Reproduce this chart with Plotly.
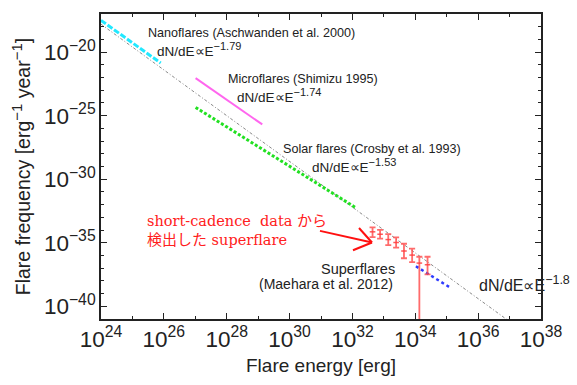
import plotly.graph_objects as go

# ---- data (log10 values) ----
trend_logE = [24.0, 37.2]
trend_logF = [-17.8, -41.56]

nano_logE = [24.0, 25.9]
nano_logF = [-17.5, -20.86]

micro_logE = [27.01, 29.13]
micro_logF = [-22.05, -25.69]

solar_logE = [27.01, 32.11]
solar_logF = [-24.35, -32.25]

maehara_logE = [34.02, 35.13]
maehara_logF = [-36.85, -38.56]

sc_logE = [32.64, 32.88, 33.14, 33.39, 33.64, 33.90, 34.13, 34.39]
sc_logF = [-34.14, -34.33, -34.75, -34.98, -35.65, -35.97, -36.60, -36.73]
sc_logUp = [-33.79, -33.99, -34.32, -34.58, -35.08, -35.46, -36.10, -36.10]
sc_logLo = [-34.55, -34.68, -35.19, -35.38, -36.22, -36.52, -42.0, -37.49]

x_range_log = [24, 38]
y_range_log = [-41, -17]

p10 = lambda arr: [10 ** v for v in arr]

fig = go.Figure()

fig.add_trace(go.Scatter(x=p10(trend_logE), y=p10(trend_logF), mode="lines",
                         line=dict(color="#8a8a8a", width=1, dash="3px,2px,1px,2px")))
fig.add_trace(go.Scatter(x=p10(nano_logE), y=p10(nano_logF), mode="lines",
                         line=dict(color="#22e8ff", width=3, dash="6px,2px")))
fig.add_trace(go.Scatter(x=p10(micro_logE), y=p10(micro_logF), mode="lines",
                         line=dict(color="#ff66ee", width=2)))
fig.add_trace(go.Scatter(x=p10(solar_logE), y=p10(solar_logF), mode="lines",
                         line=dict(color="#22e022", width=3, dash="3px,2px")))
fig.add_trace(go.Scatter(x=p10(maehara_logE), y=p10(maehara_logF), mode="lines",
                         line=dict(color="#2f3cff", width=2.5, dash="dot")))

sc_F = p10(sc_logF)
sc_up = [u - f for u, f in zip(p10(sc_logUp), sc_F)]
sc_lo = [f - l for l, f in zip(p10(sc_logLo), sc_F)]
fig.add_trace(go.Scatter(
    x=p10(sc_logE), y=sc_F, mode="markers",
    marker=dict(color="rgba(255,60,60,0.85)", size=4, symbol="line-ew",
                line=dict(color="rgba(255,60,60,0.85)", width=1.5)),
    error_y=dict(type="data", symmetric=False, array=sc_up, arrayminus=sc_lo,
                 color="rgba(255,70,70,0.8)", thickness=1.8, width=3),
))

fig.update_layout(
    width=577, height=385,
    margin=dict(l=101, r=36, t=12, b=58),
    paper_bgcolor="white", plot_bgcolor="white",
    showlegend=False,
    font=dict(family="Liberation Sans, Arial, sans-serif", color="#222"),
)

axis_common = dict(type="log", showline=True, linecolor="#222", linewidth=1.5,
                   mirror="ticks", ticks="inside", ticklen=6, tickcolor="#222",
                   tickwidth=1.2, showgrid=False, zeroline=False,
                   exponentformat="power", tickfont=dict(size=18, color="#222"))

sup = lambda s, size: f"<sup><span style='font-size:{size}px'>{s}</span></sup>"

fig.update_xaxes(**axis_common, range=x_range_log, dtick=2,
                 minor=dict(dtick=1, ticklen=3, ticks="inside", tickcolor="#222", showgrid=False),
                 title=dict(text="Flare energy [erg]", font=dict(size=19), standoff=8))
fig.update_yaxes(**axis_common, range=y_range_log, dtick=5,
                 minor=dict(dtick=1, ticklen=3, ticks="inside", tickcolor="#222", showgrid=False),
                 title=dict(text="Flare frequency [erg" + sup("−1", 15) + " year" + sup("−1", 15) + "]",
                            font=dict(size=19.5), standoff=8))

def px(xp, yp):
    return (xp - 101) / 440.0, (327 - yp) / 315.0

def label(text, xp, yp, size=12, color="#222", family=None, anchor="left"):
    x, y = px(xp, yp)
    f = dict(size=size, color=color)
    if family:
        f["family"] = family
    fig.add_annotation(x=x, y=y, xref="paper", yref="paper", text=text, showarrow=False,
                       xanchor=anchor, yanchor="middle", font=f)

label("Nanoflares (Aschwanden et al. 2000)", 146, 32, 12.6)
label("dN/dE∝E" + sup("−1.79", 11), 155, 49, 13.5)
label("Microflares (Shimizu 1995)", 226, 79, 12.6)
label("dN/dE∝E" + sup("−1.74", 11), 235, 96, 13.5)
label("Solar flares (Crosby et al. 1993)", 281, 151, 12.6)
label("dN/dE∝E" + sup("−1.53", 11), 310, 168, 13.5)
label("Superflares", 358, 275, 14.5, anchor="center")
label("(Maehara et al. 2012)", 326, 291, 14, anchor="center")
label("dN/dE∝E" + sup("−1.8", 12.5), 477, 290, 16)
serif = "DejaVu Serif, Liberation Serif, Noto Sans CJK JP, serif"
label("short-cadence  data <span style='font-size:15px'>から</span>", 145, 226, 14.5,
      color="#ff2020", family=serif)
label("<span style='font-size:15px'>検出した</span> superflare", 145, 245, 14.5,
      color="#ff2020", family=serif)

# arrow (line + open V head)
arrow_tail = (320, 236)
arrow_tip = (372, 248)
arrow_arms = [(359, 233), (353, 256)]
for a, b in [(arrow_tail, arrow_tip)] + [(arm, arrow_tip) for arm in arrow_arms]:
    x0, y0 = px(*a)
    x1, y1 = px(*b)
    fig.add_shape(type="line", xref="paper", yref="paper", x0=x0, y0=y0, x1=x1, y1=y1,
                  line=dict(color="#ff1010", width=2))

fig.write_html("out.html")
